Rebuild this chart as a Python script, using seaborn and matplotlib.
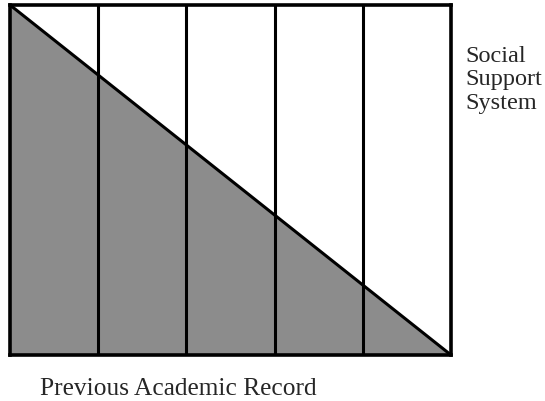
import matplotlib
matplotlib.use("Agg")
import matplotlib.pyplot as plt
import seaborn as sns
import pandas as pd

# academic record steps (columns) and the social support level on the diagonal
record = [0, 1, 2, 3, 4, 5]
support = [5, 4, 3, 2, 1, 0]
dividers = [1, 2, 3, 4]
side_label = ['Social', 'Support', 'System']
bottom_label = 'Previous Academic Record'

sns.set_theme(style="white")
plt.rcParams['font.family'] = ['Liberation Serif', 'DejaVu Serif']

df = pd.DataFrame({'record': record, 'support': support})

fig = plt.figure(figsize=(5.45, 4.01), dpi=100)
ax = fig.add_axes([10 / 545, 1 - 355 / 401, 441 / 545, 350 / 401])

ax.fill_between(df['record'], 0, df['support'], color='#8c8c8c', lw=0)
sns.lineplot(data=df, x='record', y='support', ax=ax, color='black', lw=2.2)
for d in dividers:
    ax.axvline(d, color='black', lw=2.2)

ax.set_xlim(0, 5)
ax.set_ylim(0, 5)
ax.set_xticks([])
ax.set_yticks([])
ax.set_xlabel('')
ax.set_ylabel('')
for s in ax.spines.values():
    s.set_color('black')
    s.set_linewidth(2.6)

# side label, one line at a time so the spacing is tight
for i, word in enumerate(side_label):
    fig.text(465 / 545, 1 - (62 + 23.5 * i) / 401, word, ha='left', va='baseline',
             fontsize=17.5)
fig.text(40 / 545, 1 - 395 / 401, bottom_label, ha='left', va='baseline',
         fontsize=18.3)

fig.savefig('out.png', dpi=100)
